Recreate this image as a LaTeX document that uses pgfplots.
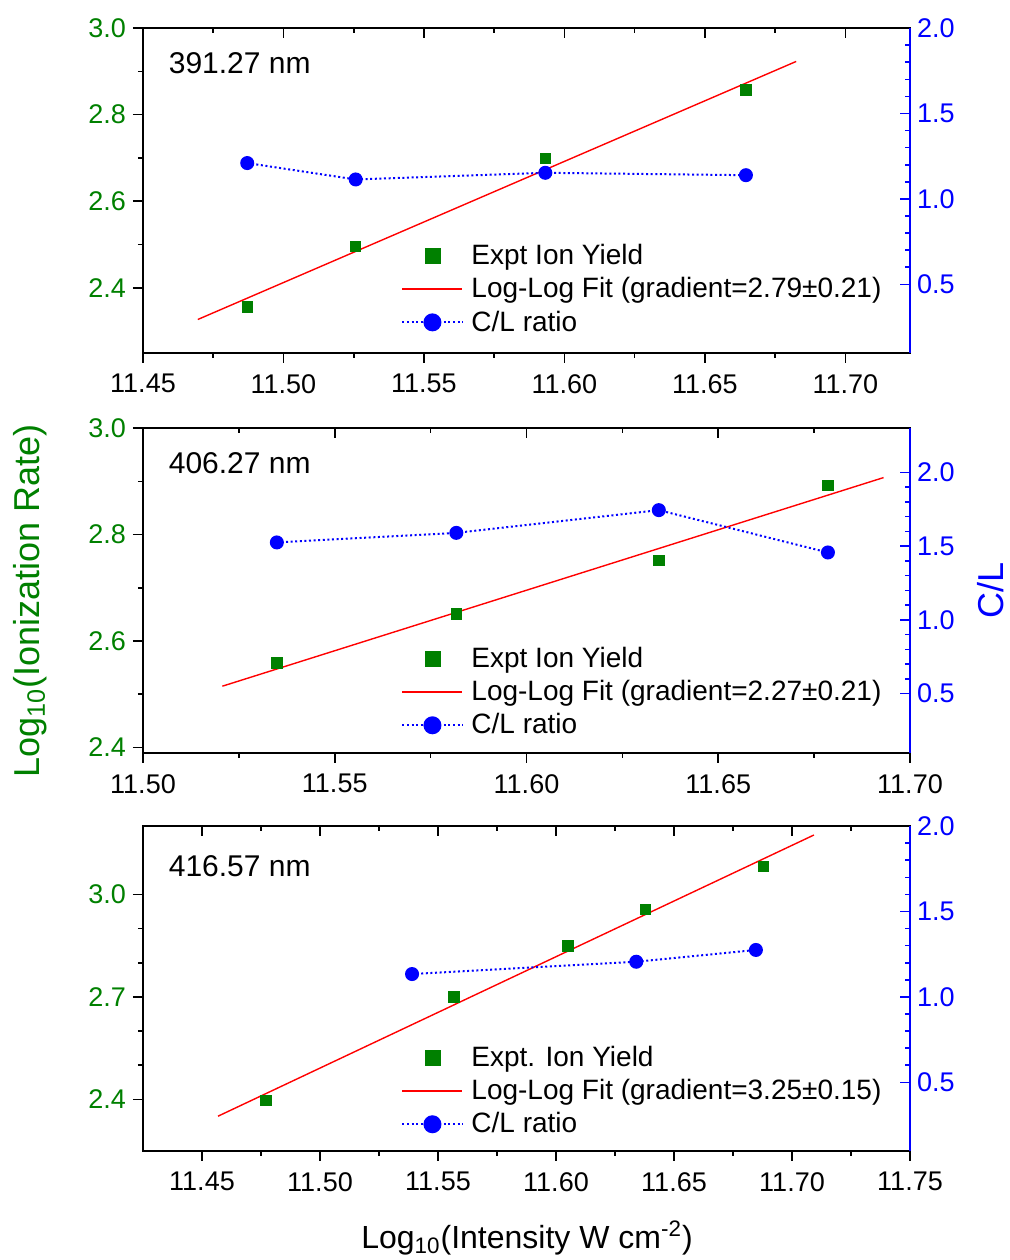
\documentclass[border=0pt]{standalone}
\usepackage{fontspec}
\setmainfont{Liberation Sans}
\usepackage{pgfplots}
\pgfplotsset{compat=1.18}
\definecolor{ogreen}{RGB}{0,128,0}
\definecolor{oblue}{RGB}{0,0,255}
\definecolor{ored}{RGB}{255,0,0}
\tikzset{plab/.style={anchor=west, font=\fontsize{15}{17}\selectfont}}
\pgfplotsset{
  /pgf/number format/assume math mode=true,
  common/.style={
    scale only axis, width=383.5pt, height=162.3pt,
    major tick length=5pt, minor tick length=2.5pt,
    ticklabel style={font=\fontsize{13.5}{16}\selectfont},
    legend image code/.code={\draw[mark repeat=2,mark phase=2,##1] plot coordinates {(0pt,0pt) (15pt,0pt) (30pt,0pt)};},
  },
  leftax/.style={
    common,
    axis line style={line width=1pt},
    tick style={line width=0.8pt, black},
    tick align=outside,
    xtick pos=bottom, ytick pos=left,
    xticklabel={\pgfmathprintnumber[fixed,fixed zerofill,precision=2]{\tick}},
    yticklabel={\pgfmathprintnumber[fixed,fixed zerofill,precision=1]{\tick}},
    xticklabel style={yshift=-2.2pt},
    yticklabel style={text=ogreen},
  },
  rightax/.style={
    common,
    axis x line*=top, axis y line*=right,
    every outer x axis line/.append style={-},
    every outer y axis line/.append style={-},
    x axis line style={black, line width=1pt},
    y axis line style={oblue, line width=1pt},
    xtick style={black, line width=0.8pt},
    ytick style={oblue, line width=0.8pt},
    tick align=inside,
    xticklabels={},
    yticklabel={\pgfmathprintnumber[fixed,fixed zerofill,precision=1]{\tick}},
    yticklabel style={text=oblue},
    ymin=0.1, ytick={0.5,1.0,1.5,2.0}, minor y tick num=4,
    legend style={draw=none, fill=none, font=\fontsize{14}{16}\selectfont, anchor=west, row sep=1pt, legend cell align=left,
      /tikz/every odd column/.append style={column sep=2pt}},
  },
  sq/.style={only marks, mark=square*, mark size=2.6pt, ogreen},
  fit/.style={ored, line width=0.7pt},
  cl/.style={oblue, line width=1pt, dash pattern=on 1pt off 1.3pt, mark=*, mark size=3pt, mark options={solid}},
}
\begin{document}
\begin{tikzpicture}
\useasboundingbox (0pt,0pt) rectangle (505pt,630pt);
% ---------------- Panel 1 ----------------
\begin{axis}[leftax, at={(71.5pt,453.65pt)}, anchor=south west,
  xmin=11.45, xmax=11.723, ymin=2.25, ymax=3.0,
  xtick={11.45,11.50,11.55,11.60,11.65,11.70}, minor x tick num=1,
  ytick={2.4,2.6,2.8,3.0}, minor y tick num=1]
\addplot[sq] coordinates {(11.4871,2.356) (11.5257,2.496) (11.5932,2.699) (11.6646,2.857)};
\addplot[fit] coordinates {(11.4695,2.3267) (11.6825,2.923)};
\node[plab] at (rel axis cs:0.0245,0.892) {391.27 nm};
\end{axis}
\begin{axis}[rightax, at={(71.5pt,453.65pt)}, anchor=south west,
  xmin=11.45, xmax=11.723, ymax=2.0,
  xtick={11.45,11.50,11.55,11.60,11.65,11.70}, minor x tick num=1,
  legend style={at={(0.3286,0.196)}}]
\addlegendimage{only marks, mark=square*, mark size=3.75pt, ogreen}
\addlegendentry{Expt Ion Yield}
\addlegendimage{fit}
\addlegendentry{Log-Log Fit (gradient=2.79±0.21)}
\addlegendimage{cl, mark size=4pt}
\addlegendentry{C/L ratio}
\addplot[cl, forget plot] coordinates {(11.4871,1.21) (11.5257,1.114) (11.5932,1.153) (11.6646,1.139)};
\end{axis}
% ---------------- Panel 2 ----------------
\begin{axis}[leftax, at={(71.5pt,253.65pt)}, anchor=south west,
  xmin=11.50, xmax=11.70, ymin=2.39, ymax=3.0,
  xtick={11.50,11.55,11.60,11.65,11.70}, minor x tick num=1,
  ytick={2.4,2.6,2.8,3.0}, minor y tick num=1]
\addplot[sq] coordinates {(11.5349,2.559) (11.5817,2.651) (11.6345,2.751) (11.6786,2.892)};
\addplot[fit] coordinates {(11.5207,2.515) (11.6931,2.907)};
\node[plab] at (rel axis cs:0.0245,0.892) {406.27 nm};
\end{axis}
\begin{axis}[rightax, at={(71.5pt,253.65pt)}, anchor=south west,
  xmin=11.50, xmax=11.70, ymax=2.3,
  xtick={11.50,11.55,11.60,11.65,11.70}, minor x tick num=1,
  legend style={at={(0.3286,0.187)}}]
\addlegendimage{only marks, mark=square*, mark size=3.75pt, ogreen}
\addlegendentry{Expt Ion Yield}
\addlegendimage{fit}
\addlegendentry{Log-Log Fit (gradient=2.27±0.21)}
\addlegendimage{cl, mark size=4pt}
\addlegendentry{C/L ratio}
\addplot[cl, forget plot] coordinates {(11.5349,1.525) (11.5817,1.590) (11.6345,1.744) (11.6786,1.457)};
\end{axis}
% ---------------- Panel 3 ----------------
\begin{axis}[leftax, at={(71.5pt,54.65pt)}, anchor=south west,
  xmin=11.425, xmax=11.75, ymin=2.25, ymax=3.2,
  xtick={11.45,11.50,11.55,11.60,11.65,11.70,11.75}, minor x tick num=1,
  ytick={2.4,2.7,3.0}, minor y tick num=2]
\addplot[sq] coordinates {(11.477,2.398) (11.5568,2.700) (11.605,2.849) (11.638,2.956) (11.688,3.082)};
\addplot[fit] coordinates {(11.4568,2.351) (11.7093,3.174)};
\node[plab] at (rel axis cs:0.0245,0.877) {416.57 nm};
\end{axis}
\begin{axis}[rightax, at={(71.5pt,54.65pt)}, anchor=south west,
  xmin=11.425, xmax=11.75, ymax=2.0,
  xtick={11.45,11.50,11.55,11.60,11.65,11.70,11.75}, minor x tick num=1,
  legend style={at={(0.3286,0.184)}}]
\addlegendimage{only marks, mark=square*, mark size=3.75pt, ogreen}
\addlegendentry{Expt. Ion Yield}
\addlegendimage{fit}
\addlegendentry{Log-Log Fit (gradient=3.25±0.15)}
\addlegendimage{cl, mark size=4pt}
\addlegendentry{C/L ratio}
\addplot[cl, forget plot] coordinates {(11.539,1.134) (11.634,1.206) (11.6847,1.275)};
\end{axis}
% ---------------- Axis titles ----------------
\node[rotate=90, text=ogreen, font=\fontsize{18}{20}\selectfont] at (15pt,329.5pt) {Log\textsubscript{10}(Ionization Rate)};
\node[rotate=90, text=oblue, font=\fontsize{18}{20}\selectfont] at (495.5pt,335pt) {C/L};
\node[font=\fontsize{16}{18}\selectfont] at (263.5pt,11pt) {Log\textsubscript{10}(Intensity W cm\textsuperscript{-2})};
\end{tikzpicture}
\end{document}
